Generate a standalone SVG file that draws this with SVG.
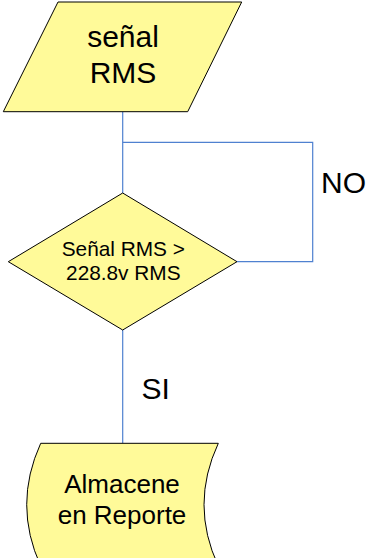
<svg xmlns="http://www.w3.org/2000/svg" width="366" height="558" viewBox="0 0 366 558">
<style>
.shape{fill:#FFFA99;stroke:#000;stroke-width:1}
.conn{fill:none;stroke:#4F81D0;stroke-width:1.2}
text{font-family:"Liberation Sans",Arial,sans-serif;fill:#000;text-anchor:middle}
</style>
<rect width="366" height="558" fill="#fff"/>
<g id="connectors">
<path class="conn" d="M122.7,111.7 V193"/>
<path class="conn" d="M122.7,142.3 H312.7 V261.7 H237"/>
<path class="conn" d="M122.7,330 V443.3"/>
<text x="321" y="193.3" font-size="30" style="text-anchor:start">NO</text>
<text x="141.5" y="399.3" font-size="30" style="text-anchor:start">SI</text>
</g>
<g id="input">
<polygon class="shape" points="58,2 241.7,2 187.7,111.7 3.3,111.7"/>
<text x="123" y="47" font-size="30">señal</text>
<text x="123" y="83.3" font-size="30">RMS</text>
</g>
<g id="decision">
<polygon class="shape" points="122.7,193 237,261.7 122.7,330 8.3,261.7"/>
<text x="123.3" y="256" font-size="20.8">Señal RMS &gt;</text>
<text x="123.3" y="280" font-size="20.8">228.8v RMS</text>
</g>
<g id="store">
<path class="shape" d="M40.7,443.3 H218.3 Q189.7,504.7 218.3,566 H40.7 Q12.7,504.7 40.7,443.3 Z"/>
<text x="122" y="492.7" font-size="26">Almacene</text>
<text x="122" y="524.3" font-size="26">en Reporte</text>
</g>
</svg>
